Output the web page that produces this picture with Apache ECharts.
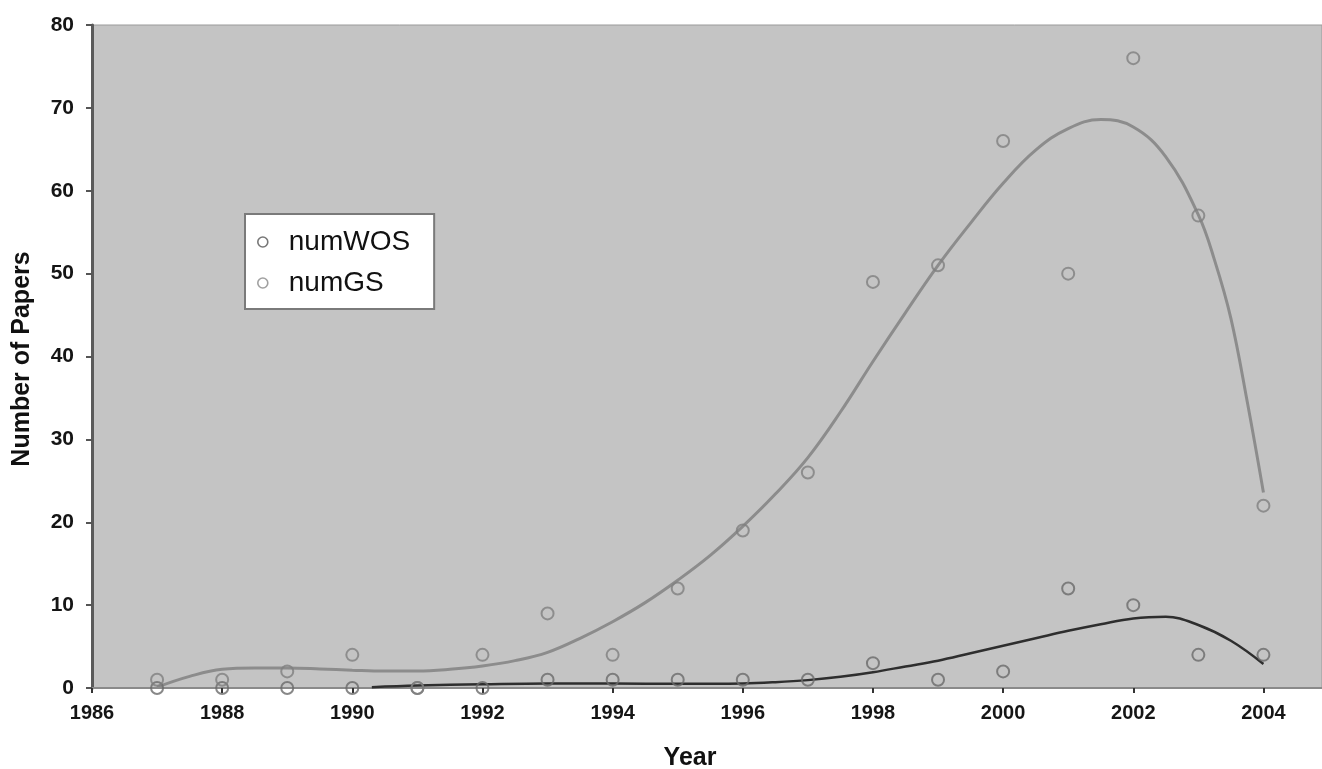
<!DOCTYPE html>
<html>
<head>
<meta charset="utf-8">
<script src="https://cdn.jsdelivr.net/npm/echarts@6/dist/echarts.min.js"></script>
<style>
html,body{margin:0;padding:0;background:#fff;}
#chart{width:1322px;height:769px;}
</style>
</head>
<body>
<div id="chart"></div>
<script>
// Observed data
const years = [1987,1988,1989,1990,1991,1992,1993,1994,1995,1996,1997,1998,1999,2000,2001,2002,2003,2004];
const numWOS = [0,0,0,0,0,0,1,1,1,1,1,3,1,2,12,10,4,4];
const numGS  = [1,1,2,4,0,4,9,4,12,19,26,49,51,66,50,76,57,22];

// Trend curves
const gsFitX = [1987,1987.5,1988,1988.5,1989,1989.5,1990,1990.5,1991,1991.5,1992,1992.5,1993,1993.5,1994,1994.5,1995,1995.5,1996,1996.5,1997,1997.5,1998,1998.5,1999,1999.5,2000,2000.5,2001,2001.5,2002,2002.5,2003,2003.25,2003.5,2003.75,2004];
const gsFitY = [0.1,1.4,2.25,2.4,2.4,2.3,2.15,2.05,2.05,2.25,2.65,3.3,4.3,6.0,8.0,10.3,13.0,16.0,19.5,23.4,27.8,33.3,39.4,45.3,51.0,56.1,60.9,64.9,67.5,68.6,67.7,64.1,57.1,51.6,44.6,34.6,23.6];
const wosFitX = [1990.3,1991,1992,1993,1994,1995,1996,1996.5,1997,1997.5,1998,1998.5,1999,1999.5,2000,2000.5,2001,2001.5,2002,2002.5,2003,2003.5,2004];
const wosFitY = [0.1,0.3,0.45,0.55,0.55,0.5,0.55,0.7,0.95,1.35,1.9,2.6,3.3,4.2,5.1,6.0,6.9,7.7,8.4,8.6,7.6,5.7,2.9];

const xTickStep = 2;
const yTicks = [0,10,20,30,40,50,60,70,80];

const pair = (xs, ys) => xs.map((x, i) => [x, ys[i]]);
const FONT = '"Liberation Sans", Arial, sans-serif';

const chart = echarts.init(document.getElementById('chart'));
chart.setOption({
  animation: false,
  backgroundColor: '#ffffff',
  grid: {
    left: 92, right: 0, top: 25, bottom: 81,
    show: true, backgroundColor: '#c4c4c4', borderColor: '#9a9a9a', borderWidth: 1
  },
  xAxis: {
    type: 'value', min: 1986, max: 2004.9, interval: xTickStep,
    axisLine: { show: true, onZero: false, lineStyle: { color: '#8a8a8a', width: 2 } },
    axisTick: { show: true, length: 5, lineStyle: { color: '#333', width: 2 } },
    splitLine: { show: false },
    axisLabel: {
      showMaxLabel: false, margin: 15,
      fontSize: 20, fontWeight: 'bold', color: '#151515', fontFamily: FONT,
      formatter: v => String(v)
    }
  },
  yAxis: {
    type: 'value', min: yTicks[0], max: yTicks[yTicks.length - 1], interval: 10,
    axisLine: { show: true, lineStyle: { color: '#5a5a5a', width: 3 } },
    axisTick: { show: true, length: 6, lineStyle: { color: '#555', width: 2 } },
    splitLine: { show: false },
    axisLabel: { margin: 18, fontSize: 21, fontWeight: 'bold', color: '#151515', fontFamily: FONT }
  },
  legend: {
    orient: 'vertical', left: 245, top: 214,
    backgroundColor: '#ffffff', borderColor: '#7a7a7a', borderWidth: 2,
    padding: [14, 24, 12, 12],
    itemWidth: 14, itemHeight: 10, itemGap: 13,
    icon: 'circle',
    textStyle: { fontSize: 28, color: '#111', fontFamily: FONT, padding: [0, 0, 0, 14] },
    data: [
      { name: 'numWOS', itemStyle: { color: 'rgba(0,0,0,0)', borderColor: '#555', borderWidth: 1.6 } },
      { name: 'numGS', itemStyle: { color: 'rgba(0,0,0,0)', borderColor: '#888', borderWidth: 1.6 } }
    ]
  },
  graphic: [
    { type: 'text', x: 690, y: 758, style: { text: 'Year', fill: '#111', font: 'bold 25px ' + FONT, textAlign: 'center', textVerticalAlign: 'middle' } },
    { type: 'text', x: 22, y: 359, rotation: Math.PI / 2, style: { text: 'Number of Papers', fill: '#111', font: 'bold 25px ' + FONT, textAlign: 'center', textVerticalAlign: 'middle' } }
  ],
  series: [
    {
      name: 'numGS fit', type: 'line', smooth: 0.4, showSymbol: false, z: 2,
      data: pair(gsFitX, gsFitY),
      lineStyle: { color: '#8c8c8c', width: 3 }
    },
    {
      name: 'numWOS fit', type: 'line', smooth: 0.4, showSymbol: false, z: 2,
      data: pair(wosFitX, wosFitY),
      lineStyle: { color: '#2e2e2e', width: 2.5 }
    },
    {
      name: 'numWOS', type: 'scatter', symbol: 'circle', symbolSize: 12, z: 3,
      data: pair(years, numWOS),
      itemStyle: { color: 'rgba(0,0,0,0)', borderColor: '#6a6a6a', borderWidth: 2 }
    },
    {
      name: 'numGS', type: 'scatter', symbol: 'circle', symbolSize: 12, z: 3,
      data: pair(years, numGS),
      itemStyle: { color: 'rgba(0,0,0,0)', borderColor: '#808080', borderWidth: 2 }
    }
  ]
});
</script>
</body>
</html>
